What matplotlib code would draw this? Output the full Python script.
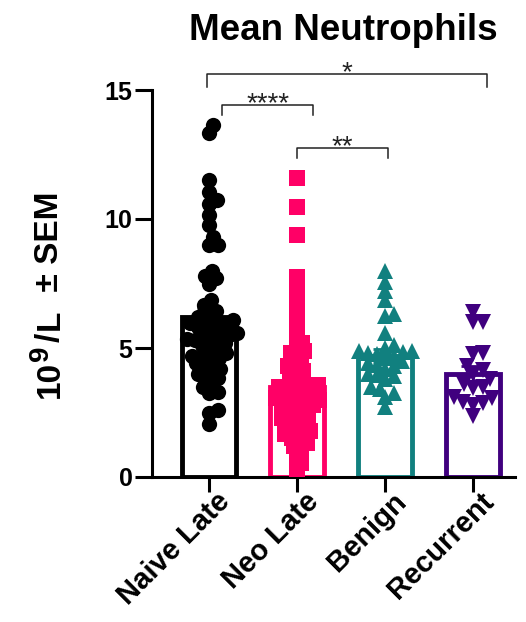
import numpy as np
import matplotlib
matplotlib.use("Agg")
import matplotlib.pyplot as plt
from matplotlib.transforms import ScaledTranslation

plt.rcParams['font.family'] = ['Liberation Sans', 'DejaVu Sans']

# ---- data -------------------------------------------------------------
categories = ["Naive Late", "Neo Late", "Benign", "Recurrent"]

naive_late = [13.65, 13.35, 11.5, 11.05, 10.75, 10.6, 10.15, 9.75, 9.3, 9.0, 9.0,
              8.0, 7.8, 7.7, 7.5, 6.85, 6.65, 6.45, 6.35, 6.2, 6.1, 6.1, 6.0, 5.95,
              5.9, 5.8, 5.75, 5.7, 5.6, 5.5, 5.5, 5.4, 5.35, 5.3, 5.3, 5.2, 5.1, 5.0,
              4.9, 4.8, 4.7, 4.65, 4.6, 4.5, 4.4, 4.26, 4.2, 4.1, 4.0, 3.85, 3.85,
              3.6, 3.5, 3.3, 3.25, 2.6, 2.5, 2.05]

neo_late = [11.59, 10.47, 9.38, 7.75, 7.13, 6.78, 6.3, 5.8, 5.5, 5.2, 5.0, 4.9,
            4.8, 4.7, 4.5, 4.4, 4.3, 4.2, 4.1, 3.9, 3.8, 3.7, 3.6, 3.55, 3.5,
            3.45, 3.4, 3.35, 3.3, 3.2, 3.1, 3.05, 3.0, 2.95, 2.9, 2.85, 2.8,
            2.75, 2.7, 2.6, 2.5, 2.45, 2.3, 2.25, 2.2, 2.1, 2.0, 1.95, 1.9, 1.8,
            1.7, 1.65, 1.6, 1.5, 1.4, 1.3, 1.2, 1.1, 0.85, 0.55, 0.3]

benign = [8.0, 7.55, 7.2, 6.85, 6.3, 6.25, 5.6, 5.1, 5.0, 4.9, 4.9, 4.85, 4.8,
          4.75, 4.7, 4.6, 4.5, 4.4, 4.35, 4.3, 4.2, 4.0, 3.95, 3.9, 3.8, 3.5,
          3.4, 3.25, 3.1, 2.7]

recurrent = [6.4, 6.0, 6.0, 4.8, 4.75, 4.3, 4.15, 4.0, 3.8, 3.6, 3.5, 3.45,
             3.1, 3.05, 2.9, 2.85, 2.8, 2.35]

means = [6.2, 3.5, 4.7, 4.0]
sems = [0.35, 0.3, 0.25, 0.3]

colors = ["#000000", "#FF0066", "#11807F", "#40007F"]
markers = ["o", "s", "^", "v"]

# significance brackets: (left x, right x, bar y, leg y, label)
brackets = [(-0.02, 3.16, 15.62, 15.12, "*"),
            (0.15, 1.18, 14.42, 14.03, "****"),
            (1.0, 2.03, 12.75, 12.36, "**")]

# ---- layout -----------------------------------------------------------
W, H = 526, 622
fig = plt.figure(figsize=(W / 100, H / 100), dpi=100)
ax_l, ax_r, ax_t, ax_b = 152, 515, 90, 477
ax = fig.add_axes([ax_l / W, 1 - ax_b / H, (ax_r - ax_l) / W, (ax_b - ax_t) / H])
xlim = (-0.648, 3.477)
ylim = (0, 15)
ax.set_xlim(*xlim)
ax.set_ylim(*ylim)

px_x = (ax_r - ax_l) / (xlim[1] - xlim[0])
px_y = (ax_b - ax_t) / (ylim[1] - ylim[0])


def swarm_offsets(values, diam):
    """Beeswarm offsets (in x data units) so points stay roughly diam px apart."""
    vals = np.asarray(values, dtype=float)
    order = np.argsort(vals)
    placed = []
    offs = np.zeros(len(vals))
    cands = [0.0]
    for k in range(1, 200):
        cands += [k * 0.5, -k * 0.5]
    for i in order:
        y = vals[i] * px_y
        chosen = 0.0
        for c in cands:
            if all((c - px) ** 2 + (y - py) ** 2 >= diam ** 2 for px, py in placed):
                chosen = c
                break
        placed.append((chosen, y))
        offs[i] = chosen / px_x
    return offs


groups = [naive_late, neo_late, benign, recurrent]
xpos = np.arange(len(categories))
msizes = [11, 11.5, 11, 11]
diams = [8.5, 7.5, 9.0, 10.0]

ax.bar(xpos, means, width=0.61, fill=False, edgecolor=colors, linewidth=3.5, zorder=2)
for xi, m, s, c in zip(xpos, means, sems, colors):
    ax.errorbar(xi, m, yerr=s, fmt='none', ecolor=c, elinewidth=2, capsize=9,
                capthick=2, zorder=2)

for xi, vals, c, mk, ms, d in zip(xpos, groups, colors, markers, msizes, diams):
    offs = swarm_offsets(vals, d)
    ax.plot(xi + offs, vals, linestyle='none', marker=mk, markersize=ms,
            markerfacecolor=c, markeredgecolor=c, markeredgewidth=0, zorder=3)

for x0, x1, yb, yl, lab in brackets:
    ax.plot([x0, x0, x1, x1], [yl, yb, yb, yl], color="#222222", lw=1.1,
            clip_on=False, zorder=4)
    ax.text((x0 + x1) / 2, yb - 0.25, lab, ha='center', va='baseline',
            fontsize=20, color="#222222")

# ---- axes styling -----------------------------------------------------
for side in ("top", "right"):
    ax.spines[side].set_visible(False)
for side in ("left", "bottom"):
    ax.spines[side].set_linewidth(2.2)

ax.set_yticks([0, 5, 10, 15])
ax.set_yticklabels(["0", "5", "10", "15"], fontsize=18, fontweight='bold')
ax.tick_params(axis='y', length=12, width=2.2, pad=2)
ax.set_xticks(xpos)
ax.set_xticklabels(categories, rotation=45, ha='right', va='top',
                   rotation_mode='anchor', fontsize=21, fontweight='bold')
ax.tick_params(axis='x', length=11, width=2.2, pad=2)
shift = ScaledTranslation(0.07, 0.08, fig.dpi_scale_trans)
for lab in ax.get_xticklabels():
    lab.set_transform(lab.get_transform() + shift)

fig.text(343 / W, 1 - 30 / H, "Mean Neutrophils", ha='center', va='center',
         fontsize=26.5, fontweight='bold')

# rotated y-axis label, assembled piece by piece so the exponent stays large
renderer = fig.canvas.get_renderer()
label_x = 50          # pixel column of the label centre
cursor = H - 398      # pixel row (from bottom) where the label starts
# (text, font size, sideways offset px, extra gap after px)
pieces = [("10", 24, 0, 0), ("9", 20, -9, 3), ("/", 24, 0, 3), ("L", 24, 0, 0),
          ("  ±", 24, 0, 0), (" SEM", 24, 0, 0)]
for txt, size, dx, gap in pieces:
    t = fig.text((label_x + dx) / W, cursor / H, txt, rotation=90, ha='center',
                 va='bottom', fontsize=size, fontweight='bold')
    ext = t.get_window_extent(renderer)
    cursor += ext.height + gap

fig.savefig("out.png", dpi=100)
